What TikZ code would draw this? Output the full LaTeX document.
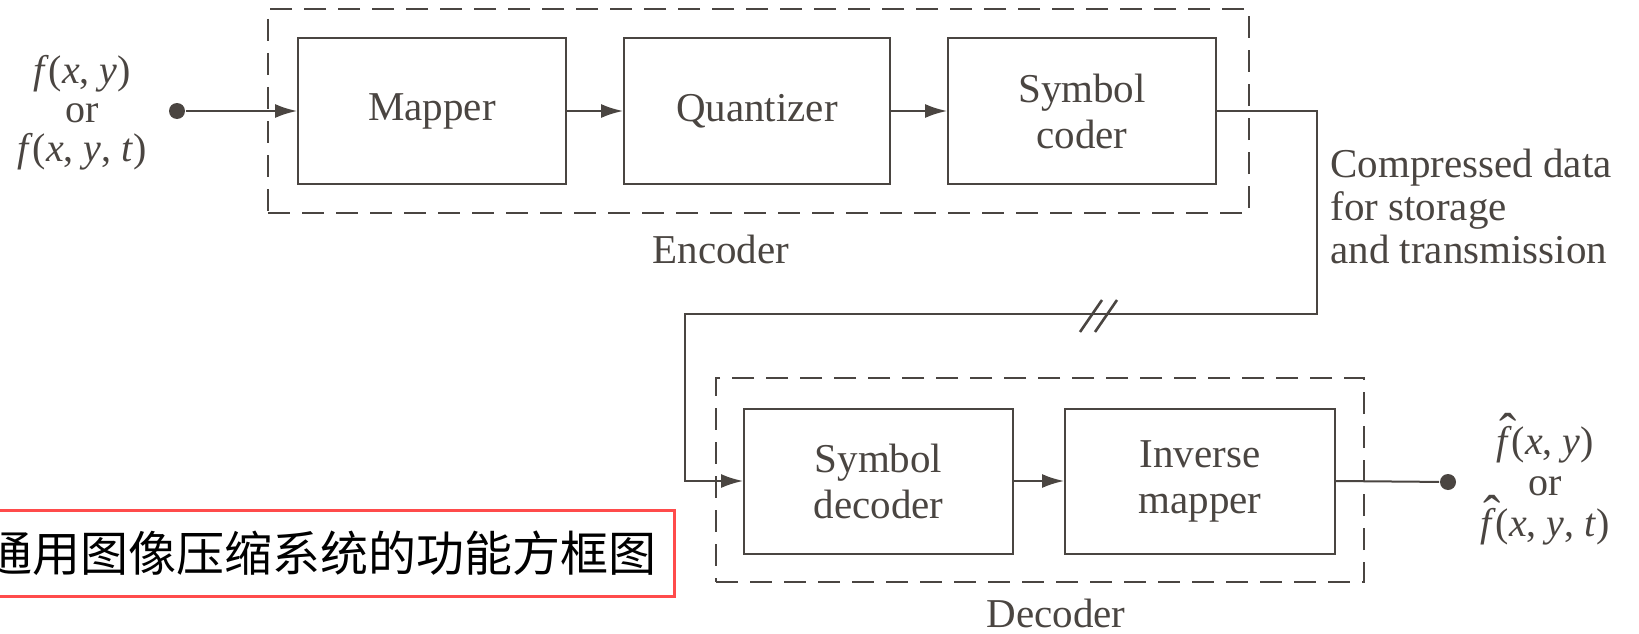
\documentclass[tikz,border=0pt]{standalone}
\usepackage{fontspec}
\setmainfont{Liberation Serif}
\newfontfamily\cjk{Noto Sans CJK SC}
\usetikzlibrary{arrows.meta}
\definecolor{ink}{HTML}{4A4541}
\definecolor{redbox}{HTML}{FF4B4B}
\newcommand{\fhat}{\rlap{\smash{\kern0.08em\raisebox{0.12em}{\scalebox{1.3}{ˆ}}}}\textit{f}}
\begin{document}
\begin{tikzpicture}[x=1pt,y=-1pt,
  line width=2pt, draw=ink,
  every node/.style={text=ink},
  blk/.style={draw=ink, line width=2pt, minimum height=145pt, align=center, inner sep=0pt, font=\fontsize{41}{46}\selectfont},
  grp/.style={draw=ink, line width=1.8pt, dash pattern=on 22pt off 12pt, minimum width=#1, inner sep=0pt},
  arr/.style={draw=ink, -{Latex[length=22pt,width=14pt]}},
  lbl/.style={font=\fontsize{41}{46}\selectfont},
  sig/.style={align=center, font=\fontsize{40}{39}\selectfont},
  dotst/.style={circle, fill=ink, draw=none, inner sep=0pt, minimum size=16pt}]
\useasboundingbox (0,0) rectangle (1639,634);
% groups
\node[grp=981pt, minimum height=204pt] (enc) at (758.5,111) {};
\node[grp=648pt, minimum height=204pt] (dec) at (1040,480) {};
% blocks
\node[blk, minimum width=268pt] (map) at (432,111) {Mapper};
\node[blk, minimum width=266pt] (quant) at (757,111) {Quantizer};
\node[blk, minimum width=268pt] (sc) at (1082,111) {Symbol\\coder};
\node[blk, minimum width=269pt] (sd) at (878.5,481) {Symbol\\decoder};
\node[blk, minimum width=270pt] (im) at (1200,481) {Inverse\\mapper};
% labels
\node[lbl] (enclbl) at (721,249) {Encoder};
\node[lbl] (declbl) at (1056,613) {Decoder};
\node[lbl, align=left, anchor=west, font=\fontsize{41}{43}\selectfont] (cdata) at (1326,206) {Compressed data\\for storage\\and transmission};
\node[sig] (insig) at (82,113) {\textit{f}(\textit{x}, \textit{y})\\or\\\textit{f}(\textit{x}, \textit{y}, \textit{t})};
\node[sig, font=\fontsize{40}{41}\selectfont] (outsig) at (1545,486) {\fhat(\textit{x}, \textit{y})\\or\\\fhat(\textit{x}, \textit{y}, \textit{t})};
% dots
\node[dotst] (in) at (177,111) {};
\node[dotst] (out) at (1448,482) {};
% connectors
\coordinate (c2) at (1317,314);
\coordinate (c3) at (685,314);
\draw[arr] (in) -- (map);
\draw[arr] (map) -- (quant);
\draw[arr] (quant) -- (sc);
\draw[arr] (sc.east) -| (c2) -- (c3) |- (sd.west);
\draw[arr] (sd) -- (im);
\draw (im.east) -- (out);
% break mark
\coordinate (b1) at (1091,316);
\coordinate (b2) at (1106,316);
\draw[line width=2.6pt] ([shift={(-11,16)}]b1) -- ([shift={(11,-16)}]b1);
\draw[line width=2.6pt] ([shift={(-11,16)}]b2) -- ([shift={(11,-16)}]b2);
% caption
\draw[draw=redbox, line width=3pt] (-10,510) rectangle (674,596);
\node[anchor=east, text=black, font=\cjk\fontsize{48}{50}\selectfont, inner sep=0pt] (cap) at (658,553) {通用图像压缩系统的功能方框图};
\end{tikzpicture}
\end{document}
